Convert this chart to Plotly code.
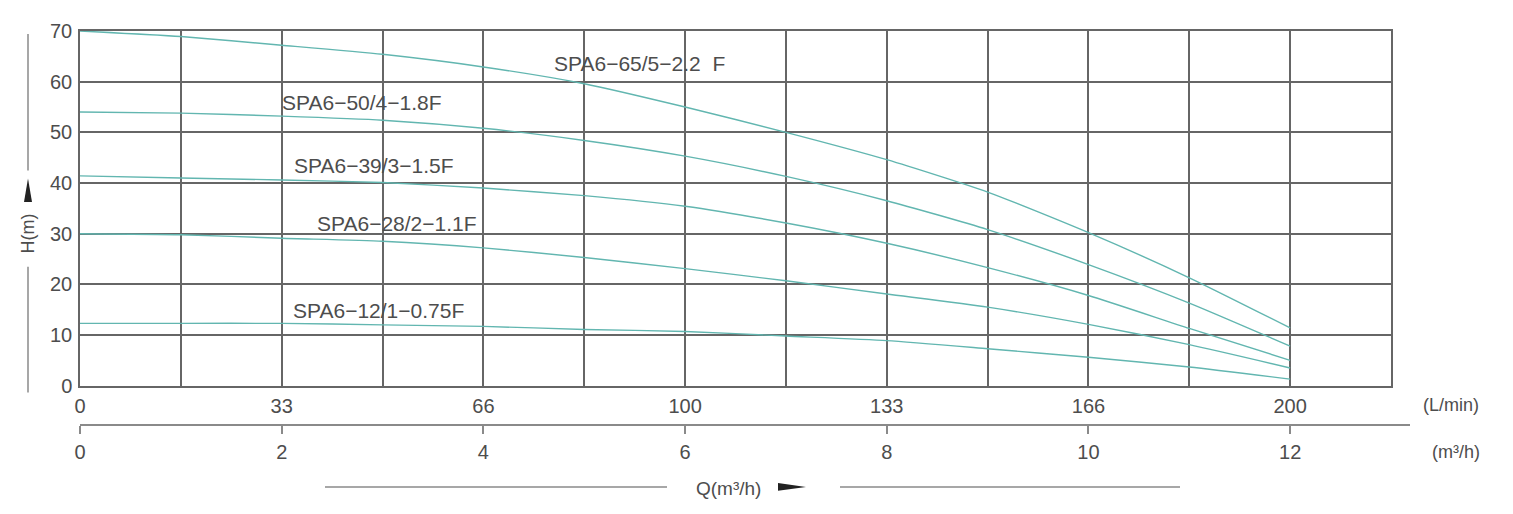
"""Pump performance curves, SPA6 series: head H(m) against flow Q."""

import plotly.graph_objects as go

FONT = "Liberation Sans, Arial, sans-serif"
INK = "#4d4d4d"
GRID = "#666666"
CURVE = "#62b6b0"

# flow points in m3/h, one reading per grid column
flow_m3h = [0, 1, 2, 3, 4, 5, 6, 7, 8, 9, 10, 11, 12]

models = [
    "SPA6−65/5−2.2  F",
    "SPA6−50/4−1.8F",
    "SPA6−39/3−1.5F",
    "SPA6−28/2−1.1F",
    "SPA6−12/1−0.75F",
]
head_65 = [70.0, 68.9, 67.2, 65.4, 62.9, 59.6, 55.0, 50.0, 44.6, 38.2, 30.2, 21.3, 11.4]
head_50 = [54.0, 53.8, 53.2, 52.4, 50.8, 48.4, 45.3, 41.3, 36.5, 30.8, 23.9, 16.3, 7.8]
head_39 = [41.4, 41.0, 40.6, 40.1, 39.0, 37.5, 35.4, 32.1, 28.1, 23.3, 17.8, 11.3, 5.0]
head_28 = [30.0, 29.8, 29.1, 28.5, 27.2, 25.3, 23.1, 20.7, 18.1, 15.5, 12.1, 8.1, 3.5]
head_12 = [12.3, 12.3, 12.3, 12.0, 11.7, 11.1, 10.7, 9.8, 8.9, 7.3, 5.6, 3.7, 1.3]
heads = [head_65, head_50, head_39, head_28, head_12]

# where each model name starts (x in m3/h, y in m)
label_x = [4.68, 1.98, 2.10, 2.33, 2.09]
label_y = [63.6, 55.8, 43.4, 32.0, 14.9]

# the two flow scales share tick positions
tick_m3h = [0, 2, 4, 6, 8, 10, 12]
tick_lmin = ["0", "33", "66", "100", "133", "166", "200"]
head_ticks = [0, 10, 20, 30, 40, 50, 60, 70]

# page geometry in screen pixels; the page body adds an 8px margin
OFF = 8
W, H = 1513 - OFF, 514 - OFF
LEFT, TOP, AXIS2 = 80, 24, 424
PLOT_RIGHT, AXIS2_RIGHT, PLOT_BOTTOM = 1391, 1410, 385
PAPER_W = AXIS2_RIGHT - LEFT
PAPER_H = AXIS2 - TOP


def px(x):
    return (x - LEFT) / PAPER_W


def py(y):
    return (AXIS2 - y) / PAPER_H


def note(x, y, text, size, angle=0):
    fig.add_annotation(
        x=px(x), y=py(y), xref="paper", yref="paper", text=text,
        textangle=angle, showarrow=False, xanchor="center", yanchor="middle",
        font=dict(family=FONT, size=size, color=INK),
    )


fig = go.Figure()
for name, head in zip(models, heads):
    fig.add_scatter(
        x=flow_m3h,
        y=head,
        mode="lines",
        line=dict(color=CURVE, width=1.4, shape="spline", smoothing=0.6),
        name=name,
        showlegend=False,
    )

for name, lx, ly in zip(models, label_x, label_y):
    fig.add_annotation(
        x=lx, y=ly, xref="x", yref="y", text=name, showarrow=False,
        xanchor="left", yanchor="middle",
        font=dict(family=FONT, size=21, color=INK),
    )

# invisible trace so the second flow axis is drawn
fig.add_scatter(x=[0], y=[0], xaxis="x2", yaxis="y2", mode="markers",
                marker=dict(opacity=0), showlegend=False, hoverinfo="skip")

note(1451, 405, "(L/min)", 18)
note(1456, 452, "(m³/h)", 18)
note(728, 490, "Q(m³/h)", 19)
note(28, 230, "H(m)", 18, angle=-90)

rule = dict(color="#8a8a8a", width=1.5)
fig.add_shape(type="line", xref="paper", yref="paper",
              x0=px(325), x1=px(667), y0=py(488), y1=py(488), line=rule)
fig.add_shape(type="line", xref="paper", yref="paper",
              x0=px(840), x1=px(1180), y0=py(488), y1=py(488), line=rule)
fig.add_shape(type="line", xref="paper", yref="paper",
              x0=px(28), x1=px(28), y0=py(27), y1=py(166), line=rule)
fig.add_shape(type="line", xref="paper", yref="paper",
              x0=px(28), x1=px(28), y0=py(264), y1=py(392), line=rule)
# arrow heads
fig.add_shape(
    type="path", xref="paper", yref="paper",
    path=f"M {px(778)},{py(484)} L {px(806)},{py(488)} L {px(778)},{py(492)} Z",
    fillcolor="#222222", line=dict(width=0),
)
fig.add_shape(
    type="path", xref="paper", yref="paper",
    path=f"M {px(24)},{py(198)} L {px(28)},{py(174)} L {px(32)},{py(198)} Z",
    fillcolor="#222222", line=dict(width=0),
)

main_frac = (PLOT_RIGHT - LEFT) / PAPER_W
bottom_frac = (AXIS2 - PLOT_BOTTOM) / PAPER_H

fig.update_layout(
    width=W,
    height=H,
    margin=dict(l=LEFT - OFF, r=1513 - AXIS2_RIGHT, t=TOP - OFF, b=514 - AXIS2),
    paper_bgcolor="white",
    plot_bgcolor="white",
    font=dict(family=FONT, size=20, color=INK),
    xaxis=dict(
        domain=[0, main_frac],
        range=[0, 13],
        tickvals=tick_m3h,
        ticktext=tick_lmin,
        ticks="",
        ticklabelstandoff=2,
        showgrid=True,
        gridcolor=GRID,
        gridwidth=1.5,
        minor=dict(dtick=1, tick0=0, showgrid=True, gridcolor=GRID, gridwidth=1.5),
        showline=True,
        linecolor=GRID,
        linewidth=1.5,
        mirror=True,
        zeroline=False,
        anchor="y",
        fixedrange=True,
    ),
    yaxis=dict(
        domain=[bottom_frac, 1],
        range=[0, 70],
        tickvals=head_ticks,
        ticks="",
        ticklabelstandoff=2,
        showgrid=True,
        gridcolor=GRID,
        gridwidth=1.5,
        showline=True,
        linecolor=GRID,
        linewidth=1.5,
        mirror=True,
        zeroline=False,
        fixedrange=True,
    ),
    xaxis2=dict(
        domain=[0, 1],
        range=[0, 13 * PAPER_W / (PLOT_RIGHT - LEFT)],
        tickvals=tick_m3h,
        ticks="outside",
        ticklen=8,
        tickcolor="#8a8a8a",
        tickwidth=1.5,
        ticklabelstandoff=1,
        showgrid=False,
        showline=True,
        linecolor="#8a8a8a",
        linewidth=1.5,
        zeroline=False,
        anchor="y2",
        fixedrange=True,
    ),
    yaxis2=dict(
        domain=[0, 0.01],
        range=[0, 1],
        visible=False,
        fixedrange=True,
    ),
)

fig.write_html("out.html")
